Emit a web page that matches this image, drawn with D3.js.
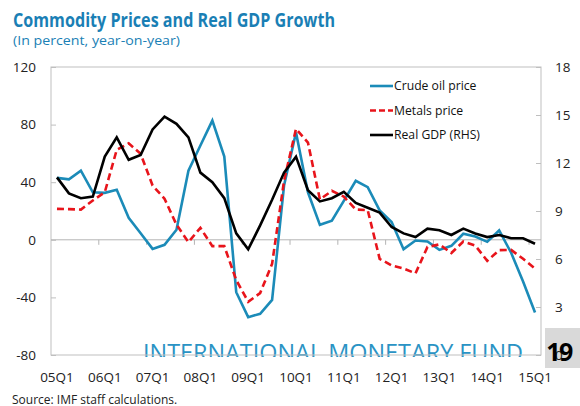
<!DOCTYPE html>
<html>
<head>
<meta charset="utf-8">
<script src="https://cdn.jsdelivr.net/npm/d3@7"></script>
<style>
  body { margin: 0; background: #fff; }
  svg { display: block; font-family: "Open Sans", "Noto Sans", sans-serif; }
</style>
</head>
<body>
<svg width="580" height="406"></svg>
<script>
// quarters 05Q1 .. 15Q1
const quarters = [];
for (let y = 5; y <= 15; y++) {
    for (let q = 1; q <= 4; q++) {
        if (y === 15 && q > 1) break;
        quarters.push(String(y).padStart(2, "0") + "Q" + q);
    }
}
const yearLabels = ["05Q1","06Q1","07Q1","08Q1","09Q1","10Q1","11Q1","12Q1","13Q1","14Q1","15Q1"];

const crudeOil = [43, 42, 48, 33, 32.6, 34.7, 15.3, 4.6, -6.3, -3.5, 7,
    48, 65.5, 82.8, 57.8, -36.4, -53.7, -51.4, -41.7, 37.7, 74.5,
    33, 10.4, 13.2, 27, 41, 36.6, 20.4, 12.3, -6.5, -0.5,
    -1.2, -7, -4.2, 4.2, 2.3, -1.4, 6.5, -9, -29, -50.5];
const metals = [21.5, 21.3, 21, 27.3, 33, 62.5, 67, 59.7, 37.7, 28.5, 10.5,
    -1.6, 8.3, -4.4, -4.4, -28, -43, -37, -16.7, 41, 77,
    67.5, 28, 34, 30, 21, 20.6, -13.2, -17.8, -20, -23.3,
    -5, -3.2, -9.2, -1.2, -4, -14.6, -7.2, -7, -13.2, -20];
const realGdp = [11.1, 10.1, 9.8, 9.9, 12.4, 13.6, 12.2, 12.5, 14.1, 14.9, 14.45,
    13.6, 11.4, 10.8, 9.8, 7.6, 6.6, 8.1, 9.7, 11.4, 12.4,
    10.3, 9.6, 9.8, 10.2, 9.5, 9.2, 8.9, 8.0, 7.6, 7.37,
    7.9, 7.8, 7.5, 7.9, 7.6, 7.37, 7.5, 7.3, 7.3, 6.95];

const leftTicks = [-80, -40, 0, 40, 80, 120];
const rightTicks = [0, 3, 6, 9, 12, 15, 18];

const series = [
    { name: "Crude oil price", values: crudeOil, axis: "left", color: "#1b8bb8", dash: null },
    { name: "Metals price", values: metals, axis: "left", color: "#e8141b", dash: "7,4" },
    { name: "Real GDP (RHS)", values: realGdp, axis: "right", color: "#000000", dash: null }
];

const svg = d3.select("svg");
const plot = { left: 51, right: 541, top: 67, bottom: 355 };
const blue = "#1a7fb5";

const x = d3.scaleBand().domain(quarters).range([plot.left, plot.right]).paddingInner(0).paddingOuter(0);
const xMid = d => x(d) + x.bandwidth() / 2;
const yL = d3.scaleLinear().domain([-80, 120]).range([plot.bottom, plot.top]);
const yR = d3.scaleLinear().domain([0, 18]).range([plot.bottom, plot.top]);

// title
svg.append("text").attr("x", 13).attr("y", 26.5)
    .attr("fill", blue).attr("font-size", 19.5).attr("font-weight", 700)
    .attr("textLength", 322).attr("lengthAdjust", "spacingAndGlyphs")
    .text("Commodity Prices and Real GDP Growth");
svg.append("text").attr("x", 13).attr("y", 45)
    .attr("fill", blue).attr("font-size", 13.5)
    .attr("textLength", 167).attr("lengthAdjust", "spacingAndGlyphs")
    .text("(In percent, year-on-year)");

// watermark, clipped just below the frame
svg.append("clipPath").attr("id", "wm")
    .append("rect").attr("x", 0).attr("y", 330).attr("width", 580).attr("height", 27);
svg.append("text").attr("clip-path", "url(#wm)")
    .attr("x", 143).attr("y", 361).attr("textLength", 380).attr("lengthAdjust", "spacingAndGlyphs")
    .attr("fill", "#2a93c4").attr("font-size", 24)
    .text("INTERNATIONAL MONETARY FUND");

// frame
svg.append("rect")
    .attr("x", plot.left).attr("y", plot.top)
    .attr("width", plot.right - plot.left).attr("height", plot.bottom - plot.top)
    .attr("fill", "none").attr("stroke", "#bfbfbf").attr("stroke-width", 1);

// left axis
const leftAxis = svg.append("g").attr("transform", `translate(${plot.left},0)`)
    .call(d3.axisRight(yL).tickValues(leftTicks).tickSize(5).tickFormat(""));
leftAxis.select(".domain").remove();
leftAxis.selectAll("line").attr("stroke", "#bfbfbf");
svg.append("g").selectAll("text").data(leftTicks).join("text")
    .attr("x", 36).attr("y", d => yL(d)).attr("dy", "0.35em")
    .attr("text-anchor", "end").attr("font-size", 13.5).attr("fill", "#222")
    .text(d => d);

// right axis
const rightAxis = svg.append("g").attr("transform", `translate(${plot.right},0)`)
    .call(d3.axisLeft(yR).tickValues(rightTicks).tickSize(5).tickFormat(""));
rightAxis.select(".domain").remove();
rightAxis.selectAll("line").attr("stroke", "#bfbfbf");

// zero line with year ticks
svg.append("line")
    .attr("x1", plot.left).attr("x2", plot.right)
    .attr("y1", yL(0)).attr("y2", yL(0))
    .attr("stroke", "#b4b4b4").attr("stroke-width", 1);
svg.append("g").selectAll("line")
    .data(quarters.filter((q, i) => i > 0 && i % 4 === 0)).join("line")
    .attr("x1", d => x(d)).attr("x2", d => x(d))
    .attr("y1", yL(0)).attr("y2", yL(0) + 5)
    .attr("stroke", "#b4b4b4");

// x labels
svg.append("g").selectAll("text").data(yearLabels).join("text")
    .attr("x", d => xMid(d)).attr("y", 382)
    .attr("text-anchor", "middle").attr("font-size", 13.5).attr("fill", "#222")
    .text(d => d);

// lines
series.forEach(s => {
    const yS = s.axis === "left" ? yL : yR;
    const line = d3.line().x((d, i) => xMid(quarters[i])).y(d => yS(d));
    svg.append("path").datum(s.values)
        .attr("d", line)
        .attr("fill", "none")
        .attr("stroke", s.color)
        .attr("stroke-width", 2.6)
        .attr("stroke-linejoin", "miter")
        .attr("stroke-dasharray", s.dash);
});

// legend
const legend = svg.append("g").attr("transform", "translate(370,86)");
series.forEach((s, i) => {
    const g = legend.append("g").attr("transform", `translate(0,${i * 24.5})`);
    g.append("line").attr("x1", 0).attr("x2", 23).attr("y1", 0).attr("y2", 0)
        .attr("stroke", s.color).attr("stroke-width", 2.6)
        .attr("stroke-dasharray", s.dash ? "6,3" : null);
    g.append("text").attr("x", 24).attr("y", 0).attr("dy", "0.35em")
        .attr("font-size", 12.2).attr("fill", "#111").text(s.name);
});

// page number box
svg.append("rect").attr("x", 545).attr("y", 328).attr("width", 35).attr("height", 40).attr("fill", "#d9d9d9");

// right axis labels
svg.append("g").selectAll("text").data(rightTicks).join("text")
    .attr("x", 555).attr("y", d => yR(d)).attr("dy", "0.35em")
    .attr("font-size", 13.5).attr("fill", "#222")
    .text(d => d);

svg.append("text").attr("x", 559).attr("y", 361).attr("text-anchor", "middle")
    .attr("font-size", 25).attr("font-weight", 700).attr("letter-spacing", -1.5).attr("fill", "#000")
    .text("19");

// source
svg.append("text").attr("x", 12).attr("y", 404)
    .attr("font-size", 12).attr("fill", "#222")
    .text("Source: IMF staff calculations.");
</script>
</body>
</html>
